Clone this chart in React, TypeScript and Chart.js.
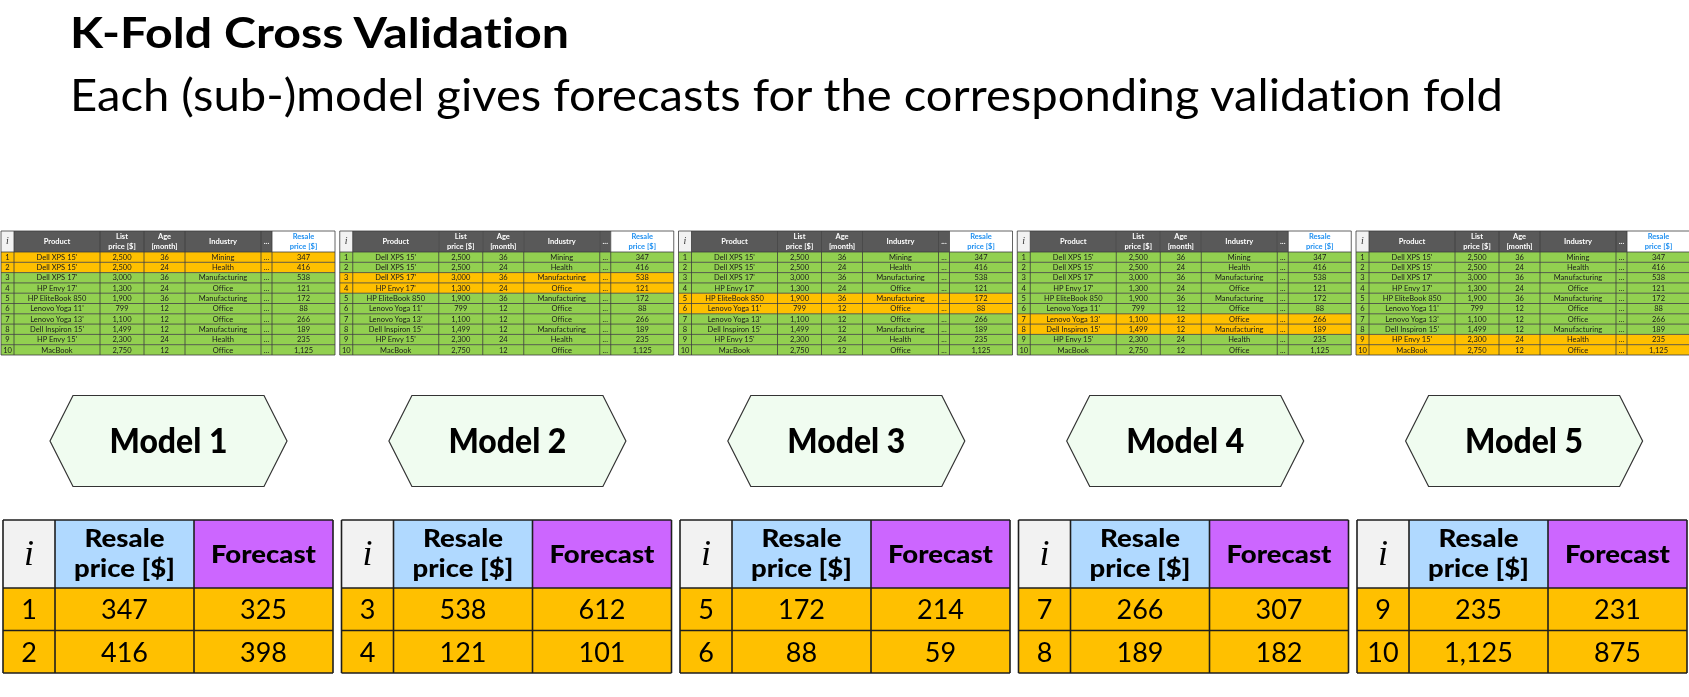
import React, { useEffect, useRef } from "react";
import { Chart, registerables } from "chart.js";
Chart.register(...registerables);

// ---------- data ----------
const titleText = "K-Fold Cross Validation";
const subtitleText = "Each (sub-)model gives forecasts for the corresponding validation fold";
const rowIds = [1, 2, 3, 4, 5, 6, 7, 8, 9, 10];
const products = ["Dell XPS 15'", "Dell XPS 15'", "Dell XPS 17'", "HP Envy 17'", "HP EliteBook 850", "Lenovo Yoga 11'", "Lenovo Yoga 13'", "Dell Inspiron 15'", "HP Envy 15'", "MacBook"];
const listPrices = [2500, 2500, 3000, 1300, 1900, 799, 1100, 1499, 2300, 2750];
const ages = [36, 24, 36, 24, 36, 12, 12, 12, 24, 12];
const industries = ["Mining", "Health", "Manufacturing", "Office", "Manufacturing", "Office", "Office", "Manufacturing", "Health", "Office"];
const resalePrices = [347, 416, 538, 121, 172, 88, 266, 189, 235, 1125];
const forecasts = [325, 398, 612, 101, 214, 59, 307, 182, 231, 875];
const foldRows = [[0, 1], [2, 3], [4, 5], [6, 7], [8, 9]];
const modelNames = ["Model 1", "Model 2", "Model 3", "Model 4", "Model 5"];
const smallHeaders = ["i", "Product", "List\nprice [$]", "Age\n[month]", "Industry", "...", "Resale\nprice [$]"];
const bigHeaders = ["i", "Resale\nprice [$]", "Forecast"];

// ---------- layout / style ----------
const W = 1689;
const H = 697;
const SANS = "Lato, 'Noto Sans', sans-serif";
const SERIF = "'Liberation Serif', 'DejaVu Serif', serif";
const SM = { x0: 1, step: 338.75, cols: [0, 13, 99, 143, 184, 260, 271, 334], top: 231, head: 21, row: 10.3 };
const HEX = { cx0: 168.5, step: 338.9, cy: 441, halfW: 118.5, inset: 23, halfH: 45.5 };
const BT = { x0: 3, step: 338.5, cols: [0, 52, 191, 330], top: 520, head: 68, row: 42.5 };
const C = {
  orange: "#FFC000",
  green: "#92D050",
  darkHead: "#595959",
  lightGray: "#F2F2F2",
  blueText: "#1E8FF0",
  blueHead: "#B0D9FF",
  purple: "#CC66FF",
  hexFill: "#F0FCF0",
};

const fmt = (n: number) => n.toLocaleString("en-US");

function fitFont(ctx: CanvasRenderingContext2D, text: string, width: number, style: string, family: string) {
  ctx.font = `${style} 100px ${family}`;
  const w = ctx.measureText(text).width;
  const size = (100 * width) / w;
  return `${style} ${size.toFixed(2)}px ${family}`;
}

// draws text at a given font size, squeezed/stretched horizontally to a target width
function drawScaled(ctx: CanvasRenderingContext2D, text: string, x: number, y: number, font: string, targetW: number, align: "left" | "center") {
  ctx.font = font;
  const w = ctx.measureText(text).width;
  const s = targetW / w;
  ctx.save();
  ctx.translate(x, y);
  ctx.scale(s, 1);
  ctx.textAlign = align;
  ctx.fillText(text, 0, 0);
  ctx.restore();
}

const drawPlugin = {
  id: "kfoldDraw",
  afterDraw(chart: any) {
    const ctx: CanvasRenderingContext2D = chart.ctx;
    const xs = chart.scales.x;
    const ys = chart.scales.y;
    const X = (v: number) => xs.getPixelForValue(v);
    const Y = (v: number) => ys.getPixelForValue(v);
    const rect = (x0: number, y0: number, x1: number, y1: number, fill: string) => {
      ctx.fillStyle = fill;
      ctx.fillRect(X(x0), Y(y0), X(x1) - X(x0), Y(y1) - Y(y0));
    };
    const line = (x0: number, y0: number, x1: number, y1: number) => {
      ctx.beginPath();
      ctx.moveTo(X(x0), Y(y0));
      ctx.lineTo(X(x1), Y(y1));
      ctx.stroke();
    };
    ctx.save();
    (ctx as any).textRendering = "optimizeLegibility";
    (ctx as any).letterSpacing = "0.01px";

    // Title & subtitle
    ctx.fillStyle = "#000";
    ctx.textBaseline = "alphabetic";
    drawScaled(ctx, titleText, X(70), Y(48), `bold 42px ${SANS}`, 499, "left");
    drawScaled(ctx, subtitleText, X(70), Y(111), `normal 45px ${SANS}`, 1433, "left");

    // Small tables
    for (let k = 0; k < 5; k++) {
      const x0 = SM.x0 + k * SM.step;
      const cx = (c: number) => x0 + (SM.cols[c] + SM.cols[c + 1]) / 2;
      const bottom = SM.top + SM.head + SM.row * rowIds.length;
      for (let c = 0; c < 7; c++) {
        const fill = c === 0 ? C.lightGray : c === 6 ? "#FFFFFF" : C.darkHead;
        rect(x0 + SM.cols[c], SM.top, x0 + SM.cols[c + 1], SM.top + SM.head, fill);
        const lines = smallHeaders[c].split("\n");
        ctx.textAlign = "center";
        ctx.textBaseline = "middle";
        if (c === 0) {
          ctx.font = `italic 10px ${SERIF}`;
          ctx.fillStyle = "#333";
        } else {
          ctx.font = `bold 7.5px ${SANS}`;
          ctx.fillStyle = c === 6 ? C.blueText : "#FFFFFF";
        }
        const ym = SM.top + SM.head / 2;
        if (lines.length === 1) ctx.fillText(lines[0], X(cx(c)), Y(ym));
        else {
          ctx.fillText(lines[0], X(cx(c)), Y(ym - 4.6));
          ctx.fillText(lines[1], X(cx(c)), Y(ym + 4.6));
        }
      }
      for (let r = 0; r < rowIds.length; r++) {
        const y0 = SM.top + SM.head + r * SM.row;
        const inFold = foldRows[k].includes(r);
        rect(x0 + SM.cols[0], y0, x0 + SM.cols[7], y0 + SM.row, inFold ? C.orange : C.green);
        const vals = [String(rowIds[r]), products[r], fmt(listPrices[r]), String(ages[r]), industries[r], "...", fmt(resalePrices[r])];
        ctx.fillStyle = "#1a1a1a";
        ctx.font = `7.5px ${SANS}`;
        ctx.textAlign = "center";
        ctx.textBaseline = "middle";
        for (let c = 0; c < 7; c++) ctx.fillText(vals[c], X(cx(c)), Y(y0 + SM.row / 2 + 0.3));
      }
      ctx.strokeStyle = "#3c3c3c";
      ctx.lineWidth = 0.8;
      for (let r = 0; r <= rowIds.length; r++) {
        const y = SM.top + SM.head + r * SM.row;
        line(x0, y, x0 + SM.cols[7], y);
      }
      line(x0, SM.top, x0 + SM.cols[7], SM.top);
      for (let c = 0; c <= 7; c++) line(x0 + SM.cols[c], SM.top, x0 + SM.cols[c], bottom);
    }

    // Model hexagons
    for (let k = 0; k < 5; k++) {
      const cx = HEX.cx0 + k * HEX.step;
      ctx.beginPath();
      ctx.moveTo(X(cx - HEX.halfW), Y(HEX.cy));
      ctx.lineTo(X(cx - HEX.halfW + HEX.inset), Y(HEX.cy - HEX.halfH));
      ctx.lineTo(X(cx + HEX.halfW - HEX.inset), Y(HEX.cy - HEX.halfH));
      ctx.lineTo(X(cx + HEX.halfW), Y(HEX.cy));
      ctx.lineTo(X(cx + HEX.halfW - HEX.inset), Y(HEX.cy + HEX.halfH));
      ctx.lineTo(X(cx - HEX.halfW + HEX.inset), Y(HEX.cy + HEX.halfH));
      ctx.closePath();
      ctx.fillStyle = C.hexFill;
      ctx.fill();
      ctx.strokeStyle = "#333";
      ctx.lineWidth = 1.2;
      ctx.stroke();
      ctx.fillStyle = "#000";
      ctx.textBaseline = "alphabetic";
      drawScaled(ctx, modelNames[k], X(cx), Y(HEX.cy + 12), `900 34px ${SANS}`, 118, "center");
    }

    // Bottom tables
    for (let k = 0; k < 5; k++) {
      const x0 = BT.x0 + k * BT.step;
      const cx = (c: number) => x0 + (BT.cols[c] + BT.cols[c + 1]) / 2;
      const fills = [C.lightGray, C.blueHead, C.purple];
      for (let c = 0; c < 3; c++) rect(x0 + BT.cols[c], BT.top, x0 + BT.cols[c + 1], BT.top + BT.head, fills[c]);
      ctx.fillStyle = "#000";
      ctx.textAlign = "center";
      ctx.textBaseline = "alphabetic";
      ctx.font = `italic 36px ${SERIF}`;
      ctx.fillText(bigHeaders[0], X(cx(0)), Y(BT.top + 45));
      const hl = bigHeaders[1].split("\n");
      drawScaled(ctx, hl[0], X(cx(1)), Y(547), `900 24px ${SANS}`, 80, "center");
      drawScaled(ctx, hl[1], X(cx(1)), Y(577), `900 24px ${SANS}`, 101, "center");
      drawScaled(ctx, bigHeaders[2], X(cx(2)), Y(562.5), `900 24px ${SANS}`, 105, "center");
      const numFont = fitFont(ctx, "347", 47, "normal", SANS);
      foldRows[k].forEach((r, j) => {
        const y0 = BT.top + BT.head + j * BT.row;
        rect(x0, y0, x0 + BT.cols[3], y0 + BT.row, C.orange);
        ctx.fillStyle = "#000";
        ctx.font = numFont;
        ctx.textAlign = "center";
        const vals = [String(rowIds[r]), fmt(resalePrices[r]), fmt(forecasts[r])];
        for (let c = 0; c < 3; c++) ctx.fillText(vals[c], X(cx(c)), Y(y0 + 31));
      });
      ctx.strokeStyle = "#1e1e1e";
      ctx.lineWidth = 1.6;
      const bottom = BT.top + BT.head + BT.row * 2;
      for (const y of [BT.top, BT.top + BT.head, BT.top + BT.head + BT.row, bottom]) line(x0, y, x0 + BT.cols[3], y);
      for (let c = 0; c <= 3; c++) line(x0 + BT.cols[c], BT.top, x0 + BT.cols[c], bottom);
    }
    ctx.restore();
  },
};

export default function App() {
  const ref = useRef<HTMLCanvasElement | null>(null);
  useEffect(() => {
    document.body.style.margin = "0";
    if (!ref.current) return;
    const chart = new Chart(ref.current, {
      type: "scatter",
      data: { datasets: [{ data: [], pointRadius: 0 }] },
      options: {
        responsive: false,
        animation: false,
        events: [],
        layout: { padding: 0 },
        plugins: { legend: { display: false }, tooltip: { enabled: false } },
        scales: {
          x: { type: "linear", min: 0, max: W, display: false },
          y: { type: "linear", min: 0, max: H, reverse: true, display: false },
        },
      },
      plugins: [drawPlugin],
    });
    const fonts = ["bold 20px Lato", "900 20px Lato", "20px Lato", "italic 20px 'Liberation Serif'"];
    Promise.all(fonts.map((f) => (document as any).fonts.load(f)))
      .then(() => chart.draw())
      .catch(() => {});
    return () => chart.destroy();
  }, []);
  return <canvas ref={ref} width={W} height={H} style={{ display: "block" }} />;
}
